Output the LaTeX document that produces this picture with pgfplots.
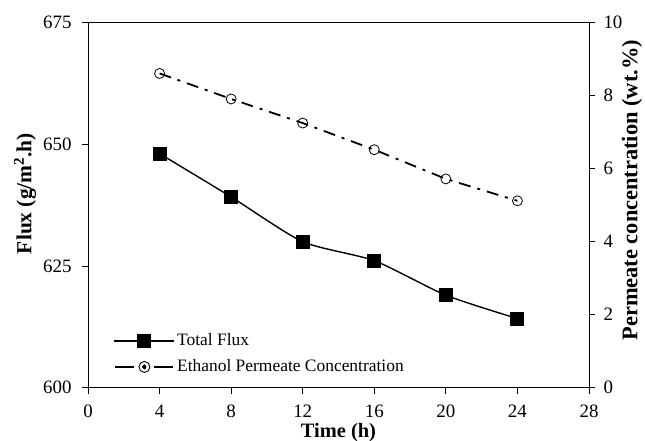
\documentclass[border=0pt]{standalone}
\usepackage{pgfplots}
\pgfplotsset{compat=1.18}
\usepackage{fontspec}
\setmainfont{Liberation Serif}
\begin{document}
\fontsize{19}{22}\selectfont
\begin{tikzpicture}
\pgfplotsset{every axis/.append style={
  scale only axis, width=501bp, height=365bp,
  font=\fontsize{19}{22}\selectfont,
  /pgf/number format/assume math mode=true,
  tick align=outside, major tick length=6bp,
  tick style={black, line width=0.8pt},
  axis line style={line width=0.9pt},
  xmin=0, xmax=28,
}}
\begin{axis}[name=main,
  ymin=600, ymax=675,
  xtick={0,4,...,28}, ytick={600,625,650,675},
  xtick pos=bottom, ytick pos=left,
  xticklabel style={yshift=-5bp},
  yticklabel style={xshift=-4bp},
  xlabel={\textbf{Time (h)}},
  xlabel style={at={(axis description cs:0.5,0)}, anchor=center, inner sep=0pt, yshift=-45bp, font=\fontsize{20.5}{22}\selectfont},
  ylabel={\textbf{Flux (g/m\textsuperscript{2}.h)}},
  ylabel style={at={(axis description cs:0,0.532)}, anchor=center, inner sep=0pt, yshift=63bp, font=\fontsize{21.5}{23}\selectfont},
]
\addplot[black, line width=1.4pt, smooth, tension=0.4, mark=square*, mark size=6.3bp, mark options={solid}]
  coordinates {(4,648.1) (8,639.2) (12,630.0) (16,626.1) (20,619.0) (24,614.2)};
\end{axis}
\begin{axis}[
  ymin=0, ymax=10, ytick={0,2,...,10},
  axis x line=none, axis y line*=right,
  yticklabel style={xshift=2bp},
  ylabel={\textbf{Permeate concentration (wt.\%)}},
  ylabel style={at={(axis description cs:1,0.541)}, anchor=center, inner sep=0pt, yshift=-43bp, font=\fontsize{22.5}{24}\selectfont},
  legend style={at={(axis description cs:0.045,0.025)}, anchor=south west, draw=none, fill=none,
    font=\fontsize{17.5}{21}\selectfont, row sep=7bp},
  legend cell align=left,
]
\addlegendimage{black, line width=1.4pt, solid, mark=square*, mark size=6.3bp,
  legend image code/.code={\draw[mark repeat=2, mark phase=2] plot coordinates {(0bp,0bp) (30bp,0bp) (60bp,0bp)};}}
\addlegendentry{Total Flux}
\addplot[black, line width=1.8pt, dash pattern=on 12bp off 7bp on 3bp off 7bp, mark=o, mark size=5bp, mark options={solid, line width=0.8pt},
  legend image code/.code={
    \draw[solid, line width=2.6pt] (1bp,0bp)--(20bp,0bp);
    \draw[solid, line width=2.6pt] (40bp,0bp)--(59bp,0bp);
    \draw[solid, line width=0.9pt, fill=white] (30bp,0bp) circle (5.5bp);
    \fill (30bp,0bp) circle (1.4bp);}]
  coordinates {(4,8.61) (8,7.91) (12,7.25) (16,6.52) (20,5.72) (24,5.12)};
\addlegendentry{Ethanol Permeate Concentration}
\end{axis}
\pgfresetboundingbox
\path ([xshift=-88bp,yshift=-53bp]main.south west) rectangle ([xshift=56bp,yshift=22.7bp]main.north east);
\end{tikzpicture}
\end{document}
